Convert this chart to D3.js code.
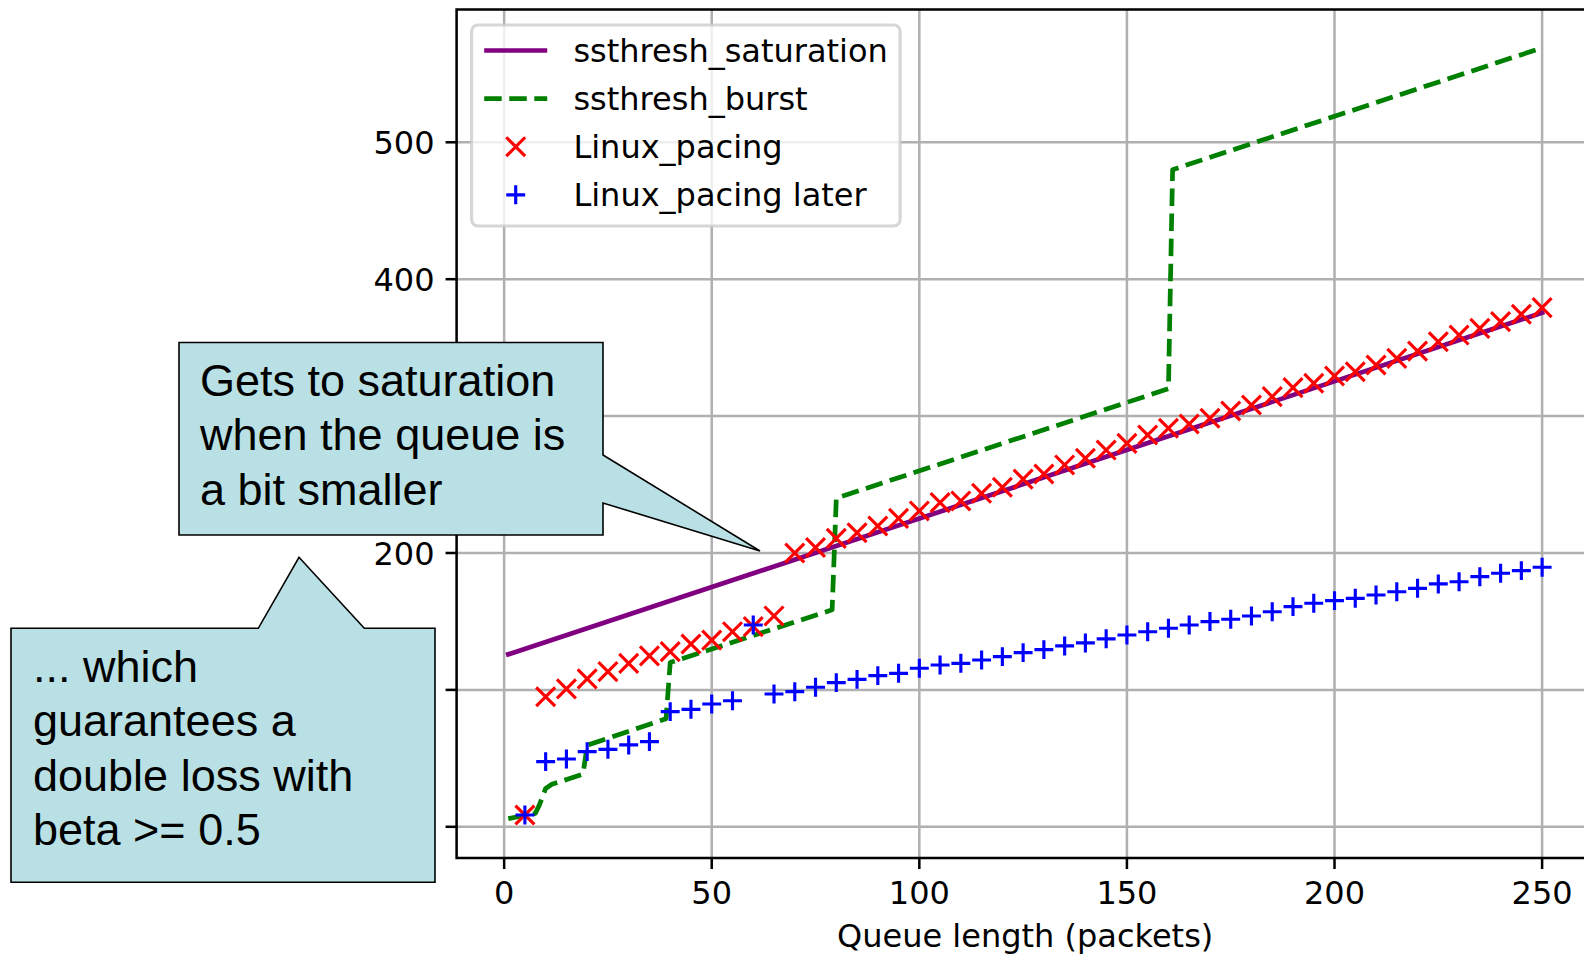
<!DOCTYPE html>
<html>
<head>
<meta charset="utf-8">
<script src="https://d3js.org/d3.v7.min.js"></script>
<style>
  html, body { margin: 0; padding: 0; background: #fff; }
  #chart { width: 1584px; height: 955px; overflow: hidden; }
</style>
</head>
<body>
<div id="chart"></div>
<script>
// ---- data ----
const xTicks = [0, 50, 100, 150, 200, 250];
const yTicks = [0, 100, 200, 300, 400, 500];
// labels for 0, 100 and 300 sit under the callout boxes in the reference
const yTickLabels = ['', '', '200', '', '400', '500'];

const saturationX = [1, 250];
const saturationY = [126, 375.5];

const burstX = [1, 7.5, 8.5, 10, 11.5, 19, 20, 39, 40, 79, 80, 160, 161, 250];
const burstY = [6, 9.8, 16, 28, 31, 38.5, 59.5, 79, 120, 158.5, 240, 320, 480, 569];

const pacingX = [5, 10, 15, 20, 25, 30, 35, 40, 45, 50, 55, 60, 65, 70, 75, 80, 85, 90, 95, 100,
  105, 110, 115, 120, 125, 130, 135, 140, 145, 150, 155, 160, 165, 170, 175, 180, 185, 190, 195, 200,
  205, 210, 215, 220, 225, 230, 235, 240, 245, 250];

const pacingY = [8.6, 95, 100.7, 108, 113.3, 119.4, 124.8, 127.9, 133.5, 136.4, 142.5, 146.2, 154,
  200, 204, 210.7, 214.8, 219.7, 225.3, 230.7, 236.8, 238, 243.6, 248, 254, 257.7, 264.3, 269.2,
  275.2, 280.1, 286.2, 291.1, 294.2, 298.4, 303.7, 308.1, 314.2, 320.8, 324, 329.3, 332.4, 337.3,
  342.2, 347.5, 354.3, 359.2, 364.1, 369, 374.4, 379.2];

const laterY = [8.6, 47.6, 49.5, 54.9, 56.6, 59.8, 62.2, 84.1, 85.8, 89.7, 92.1, 147.4, 97,
  98.7, 101.9, 105.3, 107.7, 110.4, 112.1, 115.8, 118.2, 119.4, 121.8, 124.3, 127.2, 129.4, 132.1,
  134.3, 137.3, 140.1, 142.5, 145, 147.4, 149.9, 151.6, 154, 157.1, 160.8, 163.3, 165.2, 166.9,
  169.3, 171.7, 174.2, 177.4, 179, 182.7, 185.2, 187.1, 189.6];

const legendLabels = ['ssthresh_saturation', 'ssthresh_burst', 'Linux_pacing', 'Linux_pacing later'];
const xLabel = 'Queue length (packets)';

const note1 = ['Gets to saturation', 'when the queue is', 'a bit smaller'];
const note2 = ['... which', 'guarantees a', 'double loss with', 'beta >= 0.5'];

// ---- layout ----
const W = 1584, H = 955;
const pt = 227 / 72;            // matplotlib points -> px at this figure dpi
const fontSize = 32;
const plot = { left: 456.6, right: 1593.8, top: 9.5, bottom: 858 };

const svg = d3.select('#chart').append('svg')
  .attr('width', W)
  .attr('height', H)
  .attr('viewBox', `0 0 ${W} ${H}`);

svg.append('rect').attr('width', W).attr('height', H).attr('fill', '#fff');

const x = d3.scaleLinear().domain([-11.45, 262.45]).range([plot.left, plot.right]);
const y = d3.scaleLinear().domain([-22.8, 597.0]).range([plot.bottom, plot.top]);

// grid
const grid = svg.append('g')
  .attr('stroke', '#b0b0b0')
  .attr('stroke-width', 0.8 * pt);

grid.selectAll('line.vx')
  .data(xTicks)
  .join('line')
  .attr('x1', d => x(d)).attr('x2', d => x(d))
  .attr('y1', plot.top).attr('y2', plot.bottom);

grid.selectAll('line.hy')
  .data(yTicks)
  .join('line')
  .attr('y1', d => y(d)).attr('y2', d => y(d))
  .attr('x1', plot.left).attr('x2', plot.right);

// series
const toPts = (xs, ys) => xs.map((v, i) => [v, ys[i]]);
const line = d3.line().x(d => x(d[0])).y(d => y(d[1]));

svg.append('path')
  .datum(toPts(saturationX, saturationY))
  .attr('d', line)
  .attr('fill', 'none')
  .attr('stroke', 'purple')
  .attr('stroke-width', 1.5 * pt)
  .attr('stroke-linecap', 'square');

svg.append('path')
  .datum(toPts(burstX, burstY))
  .attr('d', line)
  .attr('fill', 'none')
  .attr('stroke', 'green')
  .attr('stroke-width', 1.5 * pt)
  .attr('stroke-linejoin', 'round')
  .attr('stroke-dasharray', `${5.55 * pt} ${2.4 * pt}`);

const m = 3 * pt;   // half marker size (6pt)
const xMark = `M${-m},${-m}L${m},${m}M${-m},${m}L${m},${-m}`;
const plusMark = `M${-m},0L${m},0M0,${-m}L0,${m}`;

svg.append('g')
  .selectAll('path')
  .data(toPts(pacingX, pacingY))
  .join('path')
  .attr('d', xMark)
  .attr('transform', d => `translate(${x(d[0])},${y(d[1])})`)
  .attr('stroke', 'red')
  .attr('stroke-width', pt)
  .attr('fill', 'none');

svg.append('g')
  .selectAll('path')
  .data(toPts(pacingX, laterY))
  .join('path')
  .attr('d', plusMark)
  .attr('transform', d => `translate(${x(d[0])},${y(d[1])})`)
  .attr('stroke', 'blue')
  .attr('stroke-width', pt)
  .attr('fill', 'none');

// frame + ticks
svg.append('rect')
  .attr('x', plot.left).attr('y', plot.top)
  .attr('width', plot.right - plot.left)
  .attr('height', plot.bottom - plot.top)
  .attr('fill', 'none')
  .attr('stroke', '#000')
  .attr('stroke-width', 0.8 * pt);

const tickLen = 3.5 * pt;
const tickPad = 3.5 * pt;

const xAxis = svg.append('g')
  .attr('font-family', 'DejaVu Sans')
  .attr('font-size', fontSize);

xAxis.selectAll('line')
  .data(xTicks)
  .join('line')
  .attr('x1', d => x(d)).attr('x2', d => x(d))
  .attr('y1', plot.bottom).attr('y2', plot.bottom + tickLen)
  .attr('stroke', '#000').attr('stroke-width', 0.8 * pt);

xAxis.selectAll('text')
  .data(xTicks)
  .join('text')
  .attr('x', d => x(d))
  .attr('y', plot.bottom + tickLen + tickPad + 0.729 * fontSize + 1)
  .attr('text-anchor', 'middle')
  .text(d => d);

const yAxis = svg.append('g')
  .attr('font-family', 'DejaVu Sans')
  .attr('font-size', fontSize);

yAxis.selectAll('line')
  .data(yTicks)
  .join('line')
  .attr('y1', d => y(d)).attr('y2', d => y(d))
  .attr('x1', plot.left - tickLen).attr('x2', plot.left)
  .attr('stroke', '#000').attr('stroke-width', 0.8 * pt);

yAxis.selectAll('text')
  .data(yTicks.map((v, i) => ({ v, label: yTickLabels[i] })).filter(d => d.label))
  .join('text')
  .attr('x', plot.left - tickLen - tickPad)
  .attr('y', d => y(d.v) + 12)
  .attr('text-anchor', 'end')
  .text(d => d.label);

svg.append('text')
  .attr('x', (plot.left + plot.right) / 2)
  .attr('y', 947)
  .attr('text-anchor', 'middle')
  .attr('font-family', 'DejaVu Sans')
  .attr('font-size', fontSize)
  .text(xLabel);

// legend
const lg = svg.append('g').attr('transform', `translate(${plot.left + 15},${plot.top + 15.5})`);
lg.append('rect')
  .attr('width', 428.5).attr('height', 201)
  .attr('rx', 0.2 * fontSize)
  .attr('fill', 'rgba(255,255,255,0.8)')
  .attr('stroke', 'rgba(204,204,204,0.8)')
  .attr('stroke-width', pt);

const rowY = i => 25.5 + i * 48.1;
const hx0 = 12.6, hx1 = 12.6 + 2 * 31.5, hmid = (hx0 + hx1) / 2;

lg.append('line')
  .attr('x1', hx0).attr('x2', hx1).attr('y1', rowY(0)).attr('y2', rowY(0))
  .attr('stroke', 'purple').attr('stroke-width', 1.5 * pt);
lg.append('line')
  .attr('x1', hx0).attr('x2', hx1).attr('y1', rowY(1)).attr('y2', rowY(1))
  .attr('stroke', 'green').attr('stroke-width', 1.5 * pt)
  .attr('stroke-dasharray', `${5.55 * pt} ${2.4 * pt}`);
lg.append('path')
  .attr('d', xMark).attr('transform', `translate(${hmid},${rowY(2)})`)
  .attr('stroke', 'red').attr('stroke-width', pt).attr('fill', 'none');
lg.append('path')
  .attr('d', plusMark).attr('transform', `translate(${hmid},${rowY(3)})`)
  .attr('stroke', 'blue').attr('stroke-width', pt).attr('fill', 'none');

lg.selectAll('text')
  .data(legendLabels)
  .join('text')
  .attr('x', hx1 + 0.8 * 31.5 + 1)
  .attr('y', (d, i) => rowY(i) + 11.5)
  .attr('font-family', 'DejaVu Sans')
  .attr('font-size', fontSize)
  .text(d => d);

// callouts (pixel-space overlays)
const callouts = [
  {
    shape: [[179, 342.5], [603, 342.5], [603, 455], [760, 551], [603, 503], [603, 535], [179, 535]],
    lines: note1, tx: 200, ty: 396
  },
  {
    shape: [[11, 628.3], [258.3, 628.3], [299, 557.3], [364.3, 628.3], [435, 628.3], [435, 882.3], [11, 882.3]],
    lines: note2, tx: 33, ty: 682
  }
];

callouts.forEach(c => {
  const g = svg.append('g');
  g.append('path')
    .attr('d', d3.line()(c.shape) + 'Z')
    .attr('fill', '#b9e0e4')
    .attr('stroke', '#000')
    .attr('stroke-width', 1.6)
    .attr('stroke-linejoin', 'miter');
  g.selectAll('text')
    .data(c.lines)
    .join('text')
    .attr('x', c.tx)
    .attr('y', (d, i) => c.ty + i * 54.3)
    .attr('font-family', 'Liberation Sans, Arial, sans-serif')
    .attr('font-size', 45)
    .attr('fill', '#000')
    .text(d => d);
});
</script>
</body>
</html>
